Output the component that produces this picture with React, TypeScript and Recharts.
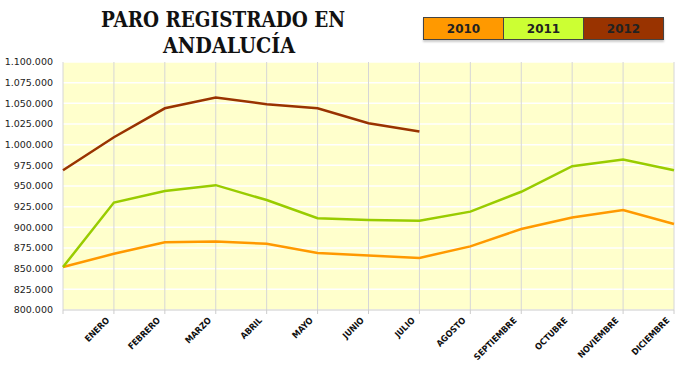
import React from 'react';
import { LineChart, Line, XAxis, YAxis, CartesianGrid } from 'recharts';

// datos
const meses = ['', 'ENERO', 'FEBRERO', 'MARZO', 'ABRIL', 'MAYO', 'JUNIO', 'JULIO', 'AGOSTO', 'SEPTIEMBRE', 'OCTUBRE', 'NOVIEMBRE', 'DICIEMBRE'];
const paro2010 = [852000, 868000, 882000, 883000, 880000, 869000, 866000, 863000, 877000, 898000, 912000, 921000, 904000];
const paro2011 = [852000, 930000, 944000, 951000, 933000, 911000, 909000, 908000, 919000, 943000, 974000, 982000, 969000];
const paro2012 = [969000, 1009000, 1044000, 1057000, 1049000, 1044000, 1026000, 1016000, null, null, null, null, null];
const yTicks = [800000, 825000, 850000, 875000, 900000, 925000, 950000, 975000, 1000000, 1025000, 1050000, 1075000, 1100000];

const series = [
  { key: 'y2010', name: '2010', line: '#FF9900', box: '#FF9900' },
  { key: 'y2011', name: '2011', line: '#99CC00', box: '#CCFF33' },
  { key: 'y2012', name: '2012', line: '#993300', box: '#993300' },
];

const data = meses.map((m, i) => ({ mes: m, y2010: paro2010[i], y2011: paro2011[i], y2012: paro2012[i] }));

const fmt = (v: number) => String(v).replace(/\B(?=(\d{3})+(?!\d))/g, '.');

const MesTick = ({ x, y, payload }: any) => {
  if (!payload.value) return null;
  return (
    <g transform={`translate(${x - 4},${y + 5})`}>
      <text transform="rotate(-45)" textAnchor="end" fontSize={8.8} fontWeight="bold" fill="#111"
        fontFamily="'DejaVu Sans Condensed', 'DejaVu Sans', sans-serif">
        {payload.value}
      </text>
    </g>
  );
};

const App = () => {
  return (
    <div style={{ position: 'absolute', left: 0, top: 0, width: 684, height: 365, background: '#fff' }}>
      <svg width={684} height={60} style={{ position: 'absolute', left: 0, top: 0 }}>
        <text x={101} y={27} fontSize={22} fontWeight="bold" fontFamily="'DejaVu Serif', serif" fill="#111"
          textLength={244} lengthAdjust="spacingAndGlyphs">PARO REGISTRADO EN</text>
        <text x={163} y={53} fontSize={22} fontWeight="bold" fontFamily="'DejaVu Serif', serif" fill="#111"
          textLength={132} lengthAdjust="spacingAndGlyphs">ANDALUCÍA</text>
      </svg>
      <div style={{ position: 'absolute', left: 423, top: 17, display: 'flex', border: '1px solid #444', boxShadow: '0 2px 2px #ccc' }}>
        {series.map((s, i) => (
          <div key={s.key} style={{
            width: 79, height: 21, background: s.box, borderLeft: i ? '1px solid #444' : 'none',
            textAlign: 'center', lineHeight: '22px', fontSize: 12, fontWeight: 'bold',
            fontFamily: "'DejaVu Sans', sans-serif", color: '#222',
          }}>{s.name}</div>
        ))}
      </div>
      <div style={{ position: 'absolute', left: 0, top: 0 }}>
        <LineChart width={684} height={365} data={data} margin={{ top: 62, right: 10, bottom: 0, left: 0 }}>
          <CartesianGrid horizontal vertical={false} stroke="#ffffff" strokeWidth={1.5} fill="#FFFFCC" />
          <CartesianGrid horizontal={false} vertical stroke="#d6d6d6" />
          <XAxis dataKey="mes" interval={0} tick={<MesTick />} height={55} axisLine={{ stroke: '#cccccc' }}
            tickLine={{ stroke: '#cccccc' }} tickSize={4} />
          <YAxis width={63} domain={[800000, 1100000]} ticks={yTicks} tickFormatter={fmt} axisLine={false}
            tickLine={false} tickMargin={4} interval={0}
            tick={{ fontSize: 9.5, fill: '#222', fontFamily: "'DejaVu Sans', sans-serif" }} />
          {series.map(s => (
            <Line key={s.key} dataKey={s.key} name={s.name} type="linear" stroke={s.line} strokeWidth={2.5}
              dot={false} isAnimationActive={false} />
          ))}
        </LineChart>
      </div>
    </div>
  );
};

export default App;
